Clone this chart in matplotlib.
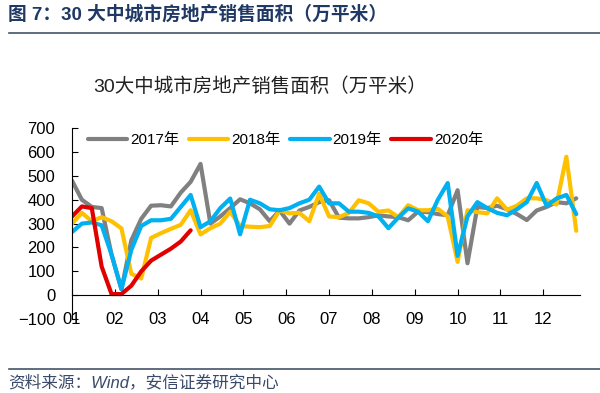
import matplotlib
matplotlib.use("Agg")
import matplotlib.pyplot as plt
from matplotlib.lines import Line2D

plt.rcParams['font.family'] = ['Liberation Sans', 'Noto Sans CJK SC', 'DejaVu Sans']

# ---- data (weekly, 万平米) ----
months = ["01", "02", "03", "04", "05", "06", "07", "08", "09", "10", "11", "12"]
series_names = ["2017年", "2018年", "2019年", "2020年"]

y2017 = [480, 400, 370, 365, 170, 25, 230, 320, 375, 377, 372, 430, 475, 550,
         300, 330, 365, 402, 385, 360, 310, 355, 300, 355, 370, 390, 398, 325,
         322, 322, 327, 335, 330, 327, 314, 350, 348, 340, 335, 440, 134, 370,
         365, 375, 360, 340, 315, 355, 370, 390, 385, 406]
y2018 = [300, 345, 310, 327, 310, 280, 90, 70, 240, 260, 278, 295, 356, 255,
         281, 300, 350, 290, 287, 285, 290, 355, 343, 345, 310, 425, 330, 327,
         345, 398, 385, 350, 355, 327, 377, 356, 356, 362, 330, 140, 356, 348,
         343, 406, 358, 375, 406, 406, 398, 380, 580, 270]
y2019 = [265, 300, 305, 293, 170, 25, 190, 290, 314, 314, 320, 370, 420, 285,
         310, 365, 405, 255, 400, 385, 360, 356, 365, 385, 400, 455, 385, 385,
         350, 350, 345, 330, 281, 325, 364, 350, 310, 400, 470, 165, 330, 390,
         365, 345, 335, 360, 390, 470, 375, 405, 420, 340]
y2020 = [330, 372, 365, 120, 5, 5, 40, 100, 145, 170, 195, 225, 272]

colors = ["#808080", "#FFC000", "#00B0F0", "#E00000"]
weeks_per_year = 52

fig = plt.figure(figsize=(6.0, 3.93), dpi=100)

# header
fig.text(0.014, 0.962, "图 7：30 大中城市房地产销售面积（万平米）", fontsize=13.5,
         fontweight='bold', color="#1F3864", va='center', ha='left')
fig.add_artist(Line2D([0.015, 1.0], [0.916, 0.916], color="#44546A", lw=1.2))
# footer
fig.add_artist(Line2D([0.015, 1.0], [0.060, 0.060], color="#44546A", lw=1.2))
fig.text(0.014, 0.026, "资料来源：Wind，安信证券研究中心", fontsize=12,
         color="#3A4A6A", va='center', ha='left', style='italic')

ax = fig.add_axes([0.12, 0.188, 0.847, 0.486])
ax.set_title("30大中城市房地产销售面积（万平米）", fontsize=14, color="#222222",
             pad=26, x=0.37)

data = [y2017, y2018, y2019, y2020]
for name, ys, c in zip(series_names, data, colors):
    ax.plot(range(len(ys)), ys, color=c, lw=3.0, label=name,
            solid_joinstyle='round', solid_capstyle='round')

ax.set_ylim(-100, 700)
ax.set_yticks(range(-100, 701, 100))
ax.set_xlim(0, 51.4)
tick_pos = [i * weeks_per_year / 12 for i in range(12)]
ax.set_xticks(tick_pos)
ax.set_xticklabels(months)

for s in ['top', 'right']:
    ax.spines[s].set_visible(False)
ax.spines['bottom'].set_position(('data', 0))
ax.spines['left'].set_color('#000000')
ax.spines['bottom'].set_color('#000000')
ax.tick_params(axis='both', direction='in', length=4, labelsize=12, colors='#000000')
ax.tick_params(axis='x', pad=12)
ax.tick_params(axis='y', pad=12)

leg = ax.legend(loc='upper center', bbox_to_anchor=(0.42, 1.045), ncol=4, frameon=False,
                fontsize=11, handlelength=2.6, handletextpad=0.2, columnspacing=0.6)

fig.savefig("out.png", dpi=100)
